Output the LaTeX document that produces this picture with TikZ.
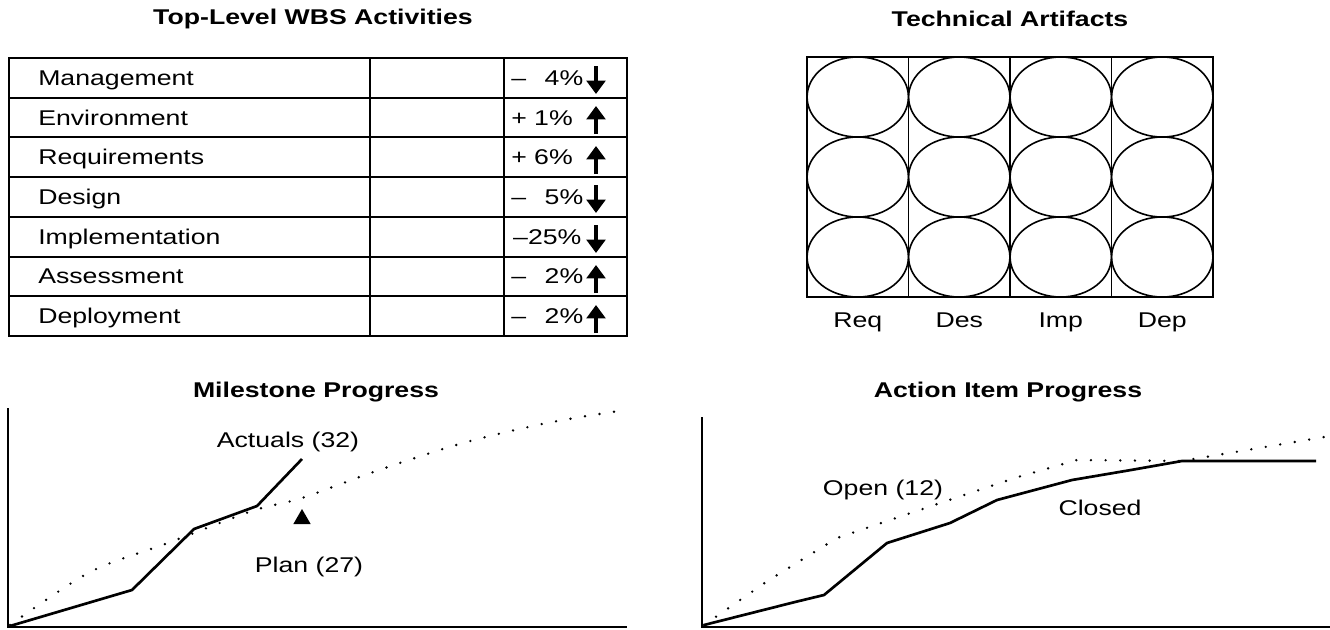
\documentclass[tikz,border=0pt]{standalone}
\usepackage{fontspec}
\setmainfont{Liberation Sans}[FakeStretch=1.25]
\usetikzlibrary{arrows.meta, shapes.geometric}

\begin{document}
\begin{tikzpicture}[x=0.75pt, y=-0.75pt,
    heading/.style={font=\bfseries\fontsize{16}{19}\selectfont, inner sep=0pt},
    txt/.style={font=\fontsize{16}{19}\selectfont, inner sep=0pt},
    frame/.style={line width=1.4pt},
    artifact/.style={draw, ellipse, line width=1.2pt, minimum width=76pt, minimum height=60pt, inner sep=0pt},
    trend/.style={-{Triangle[length=10pt, width=14pt]}, line width=2.4pt},
    axis/.style={line width=1.4pt},
    actual/.style={line width=2pt, line join=round},
    planned/.style={line width=2pt, line cap=round, dash pattern=on 0pt off 11pt},
    marker/.style={fill, regular polygon, regular polygon sides=3, minimum size=15pt, inner sep=0pt}]
        \useasboundingbox (0,0) rectangle (1330,629);

        % Titles
        \node[heading] (wbstitle) at (313,19) {Top-Level WBS Activities};
        \node[heading] (arttitle) at (1010,19) {Technical Artifacts};
        \node[heading] (mstitle) at (316,392) {Milestone Progress};
        \node[heading] (aititle) at (1008,392) {Action Item Progress};

        % WBS table
        \draw[frame] (9,58) rectangle (627,336);
        \draw[frame] (370,58) -- (370,336);
        \draw[frame] (504,58) -- (504,336);
        \draw[frame] (9,97.7) -- (627,97.7);
        \draw[frame] (9,137.4) -- (627,137.4);
        \draw[frame] (9,177.1) -- (627,177.1);
        \draw[frame] (9,216.9) -- (627,216.9);
        \draw[frame] (9,256.6) -- (627,256.6);
        \draw[frame] (9,296.3) -- (627,296.3);

        % Activity names
        \node[txt, anchor=base west] (mgmt) at (38,85) {Management};
        \node[txt, anchor=base west] (env) at (38,125) {Environment};
        \node[txt, anchor=base west] (reqs) at (38,164) {Requirements};
        \node[txt, anchor=base west] (dsgn) at (38,204) {Design};
        \node[txt, anchor=base west] (impl) at (38,244) {Implementation};
        \node[txt, anchor=base west] (assess) at (38,283) {Assessment};
        \node[txt, anchor=base west] (deploy) at (38,323) {Deployment};

        % Changes
        \node[txt, anchor=base west] (mgmtpct) at (511,85) {\makebox[54pt]{–\hfill 4\%}};
        \node[txt, anchor=base west] (envpct) at (511,125) {+ 1\%};
        \node[txt, anchor=base west] (reqspct) at (511,164) {+ 6\%};
        \node[txt, anchor=base west] (dsgnpct) at (511,204) {\makebox[54pt]{–\hfill 5\%}};
        \node[txt, anchor=base west] (implpct) at (511,244) {\makebox[54pt]{–25\%}};
        \node[txt, anchor=base west] (assesspct) at (511,283) {\makebox[54pt]{–\hfill 2\%}};
        \node[txt, anchor=base west] (deploypct) at (511,323) {\makebox[54pt]{–\hfill 2\%}};

        % Trend arrows
        \draw[trend] (596,66) -- (596,94);
        \draw[trend] (596,134) -- (596,106);
        \draw[trend] (596,174) -- (596,146);
        \draw[trend] (596,185) -- (596,213);
        \draw[trend] (596,225) -- (596,253);
        \draw[trend] (596,293) -- (596,265);
        \draw[trend] (596,333) -- (596,305);

        % Artifact grid
        \draw[frame] (807,57) rectangle (1213,297);
        \draw[frame] (908.5,57) -- (908.5,297);
        \draw[frame] (1010,57) -- (1010,297);
        \draw[frame] (1111.5,57) -- (1111.5,297);

        \node[artifact] (req1) at (857.75,97) {};
        \node[artifact] (req2) at (857.75,177) {};
        \node[artifact] (req3) at (857.75,257) {};
        \node[artifact] (des1) at (959.25,97) {};
        \node[artifact] (des2) at (959.25,177) {};
        \node[artifact] (des3) at (959.25,257) {};
        \node[artifact] (imp1) at (1060.75,97) {};
        \node[artifact] (imp2) at (1060.75,177) {};
        \node[artifact] (imp3) at (1060.75,257) {};
        \node[artifact] (dep1) at (1162.25,97) {};
        \node[artifact] (dep2) at (1162.25,177) {};
        \node[artifact] (dep3) at (1162.25,257) {};

        \node[txt, anchor=base] (reqlbl) at (857.75,327) {Req};
        \node[txt, anchor=base] (deslbl) at (959.25,327) {Des};
        \node[txt, anchor=base] (implbl) at (1060.75,327) {Imp};
        \node[txt, anchor=base] (deplbl) at (1162.25,327) {Dep};

        % Milestone chart
        \draw[axis] (8,408) -- (8,627) -- (627,627);
        \draw[planned] plot[smooth] coordinates {(10,625) (90,572) (168,543) (252,511) (302,498) (379,470) (463,443) (547,423) (625,410)};
        \draw[actual] (10,626) -- (132,590) -- (194,529) -- (257,506) -- (302,459);
        \node[marker] (milestone) at (302,519) {};
        \node[txt, anchor=base] (actlbl) at (288,447) {Actuals (32)};
        \node[txt, anchor=base] (planlbl) at (309,572) {Plan (27)};

        % Action item chart
        \draw[axis] (702,417) -- (702,627) -- (1330,627);
        \draw[planned] (704,625) -- (769,580) -- (837,538) -- (896,518) -- (955,498) -- (1018,477) -- (1077,460) -- (1182,461) -- (1330,436);
        \draw[actual] (704,625) -- (795,602) -- (824,595) -- (887,543) -- (950,523) -- (997,500) -- (1072,480) -- (1131,470) -- (1182,461) -- (1316,461);
        \node[txt, anchor=base] (openlbl) at (883,495) {Open (12)};
        \node[txt, anchor=base] (closedlbl) at (1100,515) {Closed};
\end{tikzpicture}
\end{document}
